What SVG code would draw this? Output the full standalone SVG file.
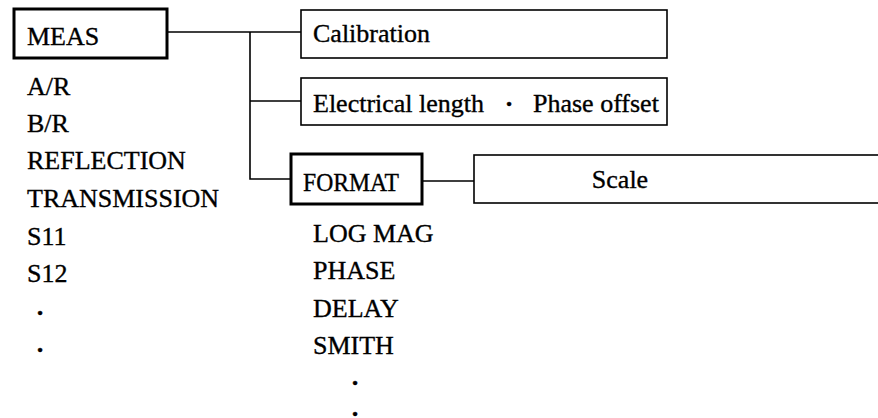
<svg xmlns="http://www.w3.org/2000/svg" width="878" height="418" viewBox="0 0 878 418">
<style>
text{font-family:"Liberation Serif","Times New Roman",serif;font-size:26px;fill:#000;stroke:#000;stroke-width:0.35}
.dot{font-weight:bold}
.thick{fill:#fff;stroke:#000;stroke-width:3}
.thin{fill:#fff;stroke:#000;stroke-width:1.6}
.conn{fill:none;stroke:#000;stroke-width:1.6}
</style>
<rect width="878" height="418" fill="#fff"/>
<g id="connectors">
<path class="conn" d="M167 32H301M250 32V179H291M250 101H301M422 181H474"/>
</g>
<g id="meas">
<rect class="thick" x="14" y="9" width="153" height="49"/>
<text x="27" y="45">MEAS</text>
<text x="27" y="95">A/R</text>
<text x="27" y="132">B/R</text>
<text x="27" y="169">REFLECTION</text>
<text x="27" y="207">TRANSMISSION</text>
<text x="27" y="245">S11</text>
<text x="27" y="282">S12</text>
<text class="dot" x="40" y="321" text-anchor="middle">·</text>
<text class="dot" x="40" y="358" text-anchor="middle">·</text>
</g>
<g id="calibration">
<rect class="thin" x="301" y="10" width="366" height="48"/>
<text x="313" y="42">Calibration</text>
</g>
<g id="electrical">
<rect class="thin" x="301" y="78" width="366" height="47"/>
<text x="313" y="112">Electrical length<tspan class="dot" x="509" text-anchor="middle">·</tspan><tspan x="533">Phase offset</tspan></text>
</g>
<g id="format">
<rect class="thick" x="291" y="154" width="131" height="50"/>
<text x="303" y="191" textLength="96" lengthAdjust="spacingAndGlyphs">FORMAT</text>
<text x="313" y="242">LOG MAG</text>
<text x="313" y="279">PHASE</text>
<text x="313" y="317">DELAY</text>
<text x="313" y="354">SMITH</text>
<text class="dot" x="355" y="391" text-anchor="middle">·</text>
<text class="dot" x="355" y="422" text-anchor="middle">·</text>
</g>
<g id="scale">
<rect class="thin" x="474" y="155" width="410" height="48"/>
<text x="620" y="188" text-anchor="middle">Scale</text>
</g>
</svg>
